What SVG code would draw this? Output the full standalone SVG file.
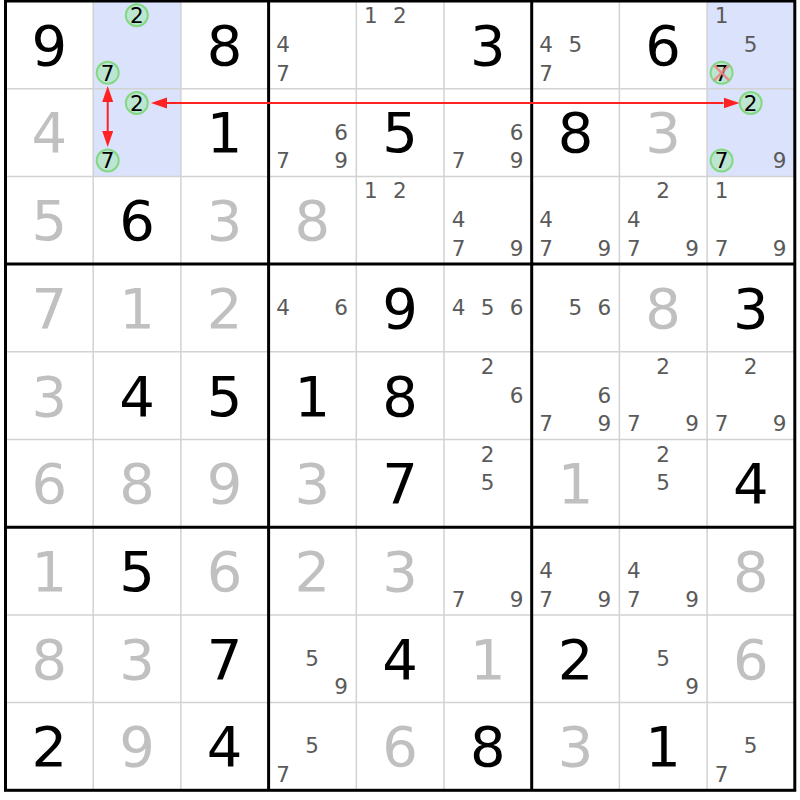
<svg xmlns="http://www.w3.org/2000/svg" width="800" height="800" viewBox="0 0 800 800">
<defs>
<style>
text{font-family:"DejaVu Sans","Liberation Sans",sans-serif;text-anchor:middle}
.g{font-size:56px;fill:#000}
.s{font-size:56px;fill:#c0c0c0}
.c{font-size:21.5px;fill:#5a5a5a}
.k{font-size:21.5px;fill:#000}
.thin{stroke:#d2d2d2;stroke-width:1.5}
.thick{stroke:#000;stroke-width:3}
.hl{fill:#dae3fb}
.ring{fill:#bde6d2;stroke:#84d884;stroke-width:2}
.x{stroke:#f08080;stroke-width:2.5;stroke-opacity:0.85}
.arrow{stroke:#f22;stroke-width:2;fill:none}
</style>
<marker id="ah" markerUnits="userSpaceOnUse" markerWidth="18" markerHeight="14" refX="0" refY="0" viewBox="0 -7 18 14" orient="auto-start-reverse">
<path d="M0,-5.5 L16,0 L0,5.5 Z" fill="#f22"/>
</marker>
</defs>
<rect width="800" height="800" fill="#fff"/>
<g id="highlights">
<rect class="hl" x="93.2" y="1" width="87.7" height="175.4"/>
<rect class="hl" x="707.1" y="1" width="87.7" height="175.4"/>
</g>
<g id="grid">
<g class="thin">
<line x1="93.2" y1="1" x2="93.2" y2="790.3"/>
<line x1="180.9" y1="1" x2="180.9" y2="790.3"/>
<line x1="356.3" y1="1" x2="356.3" y2="790.3"/>
<line x1="444" y1="1" x2="444" y2="790.3"/>
<line x1="619.4" y1="1" x2="619.4" y2="790.3"/>
<line x1="707.1" y1="1" x2="707.1" y2="790.3"/>
<line x1="5.5" y1="88.7" x2="794.8" y2="88.7"/>
<line x1="5.5" y1="176.4" x2="794.8" y2="176.4"/>
<line x1="5.5" y1="351.8" x2="794.8" y2="351.8"/>
<line x1="5.5" y1="439.5" x2="794.8" y2="439.5"/>
<line x1="5.5" y1="614.9" x2="794.8" y2="614.9"/>
<line x1="5.5" y1="702.6" x2="794.8" y2="702.6"/>
</g>
<g class="thick">
<line x1="268.6" y1="1" x2="268.6" y2="790.3"/>
<line x1="531.7" y1="1" x2="531.7" y2="790.3"/>
<line x1="5.5" y1="264.1" x2="794.8" y2="264.1"/>
<line x1="5.5" y1="527.2" x2="794.8" y2="527.2"/>
<rect x="5.5" y="1" width="789.3" height="789.3" fill="none"/>
</g>
</g>
<!-- Row 1 -->
<g id="r1c1" transform="translate(5.5,1)"><text class="g" x="43.8" y="63.8">9</text></g>
<g id="r1c2" transform="translate(93.2,1)">
<circle class="ring" cx="43.6" cy="14.3" r="11"/><text class="k" x="43.6" y="22">2</text>
<circle class="ring" cx="14.5" cy="71.8" r="11"/><text class="k" x="14.5" y="79.5">7</text>
</g>
<g id="r1c3" transform="translate(180.9,1)"><text class="g" x="43.8" y="63.8">8</text></g>
<g id="r1c4" transform="translate(268.6,1)"><text class="c" x="14.5" y="50.9">4</text><text class="c" x="14.5" y="79.5">7</text></g>
<g id="r1c5" transform="translate(356.3,1)"><text class="c" x="14.5" y="22">1</text><text class="c" x="43.6" y="22">2</text></g>
<g id="r1c6" transform="translate(444,1)"><text class="g" x="43.8" y="63.8">3</text></g>
<g id="r1c7" transform="translate(531.7,1)"><text class="c" x="14.5" y="50.9">4</text><text class="c" x="43.6" y="50.9">5</text><text class="c" x="14.5" y="79.5">7</text></g>
<g id="r1c8" transform="translate(619.4,1)"><text class="g" x="43.8" y="63.8">6</text></g>
<g id="r1c9" transform="translate(707.1,1)">
<text class="c" x="14.5" y="22">1</text><text class="c" x="43.6" y="50.9">5</text>
<circle class="ring" cx="14.5" cy="71.8" r="11"/><text class="k" x="14.5" y="79.5">7</text>
<line class="x" x1="7" y1="64.3" x2="22" y2="79.3"/><line class="x" x1="22" y1="64.3" x2="7" y2="79.3"/>
</g>
<!-- Row 2 -->
<g id="r2c1" transform="translate(5.5,88.7)"><text class="s" x="43.8" y="63.8">4</text></g>
<g id="r2c2" transform="translate(93.2,88.7)">
<circle class="ring" cx="43.6" cy="14.3" r="11"/><text class="k" x="43.6" y="22">2</text>
<circle class="ring" cx="14.5" cy="71.8" r="11"/><text class="k" x="14.5" y="79.5">7</text>
</g>
<g id="r2c3" transform="translate(180.9,88.7)"><text class="g" x="43.8" y="63.8">1</text></g>
<g id="r2c4" transform="translate(268.6,88.7)"><text class="c" x="72.6" y="50.9">6</text><text class="c" x="14.5" y="79.5">7</text><text class="c" x="72.6" y="79.5">9</text></g>
<g id="r2c5" transform="translate(356.3,88.7)"><text class="g" x="43.8" y="63.8">5</text></g>
<g id="r2c6" transform="translate(444,88.7)"><text class="c" x="72.6" y="50.9">6</text><text class="c" x="14.5" y="79.5">7</text><text class="c" x="72.6" y="79.5">9</text></g>
<g id="r2c7" transform="translate(531.7,88.7)"><text class="g" x="43.8" y="63.8">8</text></g>
<g id="r2c8" transform="translate(619.4,88.7)"><text class="s" x="43.8" y="63.8">3</text></g>
<g id="r2c9" transform="translate(707.1,88.7)">
<circle class="ring" cx="43.6" cy="14.3" r="11"/><text class="k" x="43.6" y="22">2</text>
<circle class="ring" cx="14.5" cy="71.8" r="11"/><text class="k" x="14.5" y="79.5">7</text>
<text class="c" x="72.6" y="79.5">9</text>
</g>
<!-- Row 3 -->
<g id="r3c1" transform="translate(5.5,176.4)"><text class="s" x="43.8" y="63.8">5</text></g>
<g id="r3c2" transform="translate(93.2,176.4)"><text class="g" x="43.8" y="63.8">6</text></g>
<g id="r3c3" transform="translate(180.9,176.4)"><text class="s" x="43.8" y="63.8">3</text></g>
<g id="r3c4" transform="translate(268.6,176.4)"><text class="s" x="43.8" y="63.8">8</text></g>
<g id="r3c5" transform="translate(356.3,176.4)"><text class="c" x="14.5" y="22">1</text><text class="c" x="43.6" y="22">2</text></g>
<g id="r3c6" transform="translate(444,176.4)"><text class="c" x="14.5" y="50.9">4</text><text class="c" x="14.5" y="79.5">7</text><text class="c" x="72.6" y="79.5">9</text></g>
<g id="r3c7" transform="translate(531.7,176.4)"><text class="c" x="14.5" y="50.9">4</text><text class="c" x="14.5" y="79.5">7</text><text class="c" x="72.6" y="79.5">9</text></g>
<g id="r3c8" transform="translate(619.4,176.4)"><text class="c" x="43.6" y="22">2</text><text class="c" x="14.5" y="50.9">4</text><text class="c" x="14.5" y="79.5">7</text><text class="c" x="72.6" y="79.5">9</text></g>
<g id="r3c9" transform="translate(707.1,176.4)"><text class="c" x="14.5" y="22">1</text><text class="c" x="14.5" y="79.5">7</text><text class="c" x="72.6" y="79.5">9</text></g>
<!-- Row 4 -->
<g id="r4c1" transform="translate(5.5,264.1)"><text class="s" x="43.8" y="63.8">7</text></g>
<g id="r4c2" transform="translate(93.2,264.1)"><text class="s" x="43.8" y="63.8">1</text></g>
<g id="r4c3" transform="translate(180.9,264.1)"><text class="s" x="43.8" y="63.8">2</text></g>
<g id="r4c4" transform="translate(268.6,264.1)"><text class="c" x="14.5" y="50.9">4</text><text class="c" x="72.6" y="50.9">6</text></g>
<g id="r4c5" transform="translate(356.3,264.1)"><text class="g" x="43.8" y="63.8">9</text></g>
<g id="r4c6" transform="translate(444,264.1)"><text class="c" x="14.5" y="50.9">4</text><text class="c" x="43.6" y="50.9">5</text><text class="c" x="72.6" y="50.9">6</text></g>
<g id="r4c7" transform="translate(531.7,264.1)"><text class="c" x="43.6" y="50.9">5</text><text class="c" x="72.6" y="50.9">6</text></g>
<g id="r4c8" transform="translate(619.4,264.1)"><text class="s" x="43.8" y="63.8">8</text></g>
<g id="r4c9" transform="translate(707.1,264.1)"><text class="g" x="43.8" y="63.8">3</text></g>
<!-- Row 5 -->
<g id="r5c1" transform="translate(5.5,351.8)"><text class="s" x="43.8" y="63.8">3</text></g>
<g id="r5c2" transform="translate(93.2,351.8)"><text class="g" x="43.8" y="63.8">4</text></g>
<g id="r5c3" transform="translate(180.9,351.8)"><text class="g" x="43.8" y="63.8">5</text></g>
<g id="r5c4" transform="translate(268.6,351.8)"><text class="g" x="43.8" y="63.8">1</text></g>
<g id="r5c5" transform="translate(356.3,351.8)"><text class="g" x="43.8" y="63.8">8</text></g>
<g id="r5c6" transform="translate(444,351.8)"><text class="c" x="43.6" y="22">2</text><text class="c" x="72.6" y="50.9">6</text></g>
<g id="r5c7" transform="translate(531.7,351.8)"><text class="c" x="72.6" y="50.9">6</text><text class="c" x="14.5" y="79.5">7</text><text class="c" x="72.6" y="79.5">9</text></g>
<g id="r5c8" transform="translate(619.4,351.8)"><text class="c" x="43.6" y="22">2</text><text class="c" x="14.5" y="79.5">7</text><text class="c" x="72.6" y="79.5">9</text></g>
<g id="r5c9" transform="translate(707.1,351.8)"><text class="c" x="43.6" y="22">2</text><text class="c" x="14.5" y="79.5">7</text><text class="c" x="72.6" y="79.5">9</text></g>
<!-- Row 6 -->
<g id="r6c1" transform="translate(5.5,439.5)"><text class="s" x="43.8" y="63.8">6</text></g>
<g id="r6c2" transform="translate(93.2,439.5)"><text class="s" x="43.8" y="63.8">8</text></g>
<g id="r6c3" transform="translate(180.9,439.5)"><text class="s" x="43.8" y="63.8">9</text></g>
<g id="r6c4" transform="translate(268.6,439.5)"><text class="s" x="43.8" y="63.8">3</text></g>
<g id="r6c5" transform="translate(356.3,439.5)"><text class="g" x="43.8" y="63.8">7</text></g>
<g id="r6c6" transform="translate(444,439.5)"><text class="c" x="43.6" y="22">2</text><text class="c" x="43.6" y="50.9">5</text></g>
<g id="r6c7" transform="translate(531.7,439.5)"><text class="s" x="43.8" y="63.8">1</text></g>
<g id="r6c8" transform="translate(619.4,439.5)"><text class="c" x="43.6" y="22">2</text><text class="c" x="43.6" y="50.9">5</text></g>
<g id="r6c9" transform="translate(707.1,439.5)"><text class="g" x="43.8" y="63.8">4</text></g>
<!-- Row 7 -->
<g id="r7c1" transform="translate(5.5,527.2)"><text class="s" x="43.8" y="63.8">1</text></g>
<g id="r7c2" transform="translate(93.2,527.2)"><text class="g" x="43.8" y="63.8">5</text></g>
<g id="r7c3" transform="translate(180.9,527.2)"><text class="s" x="43.8" y="63.8">6</text></g>
<g id="r7c4" transform="translate(268.6,527.2)"><text class="s" x="43.8" y="63.8">2</text></g>
<g id="r7c5" transform="translate(356.3,527.2)"><text class="s" x="43.8" y="63.8">3</text></g>
<g id="r7c6" transform="translate(444,527.2)"><text class="c" x="14.5" y="79.5">7</text><text class="c" x="72.6" y="79.5">9</text></g>
<g id="r7c7" transform="translate(531.7,527.2)"><text class="c" x="14.5" y="50.9">4</text><text class="c" x="14.5" y="79.5">7</text><text class="c" x="72.6" y="79.5">9</text></g>
<g id="r7c8" transform="translate(619.4,527.2)"><text class="c" x="14.5" y="50.9">4</text><text class="c" x="14.5" y="79.5">7</text><text class="c" x="72.6" y="79.5">9</text></g>
<g id="r7c9" transform="translate(707.1,527.2)"><text class="s" x="43.8" y="63.8">8</text></g>
<!-- Row 8 -->
<g id="r8c1" transform="translate(5.5,614.9)"><text class="s" x="43.8" y="63.8">8</text></g>
<g id="r8c2" transform="translate(93.2,614.9)"><text class="s" x="43.8" y="63.8">3</text></g>
<g id="r8c3" transform="translate(180.9,614.9)"><text class="g" x="43.8" y="63.8">7</text></g>
<g id="r8c4" transform="translate(268.6,614.9)"><text class="c" x="43.6" y="50.9">5</text><text class="c" x="72.6" y="79.5">9</text></g>
<g id="r8c5" transform="translate(356.3,614.9)"><text class="g" x="43.8" y="63.8">4</text></g>
<g id="r8c6" transform="translate(444,614.9)"><text class="s" x="43.8" y="63.8">1</text></g>
<g id="r8c7" transform="translate(531.7,614.9)"><text class="g" x="43.8" y="63.8">2</text></g>
<g id="r8c8" transform="translate(619.4,614.9)"><text class="c" x="43.6" y="50.9">5</text><text class="c" x="72.6" y="79.5">9</text></g>
<g id="r8c9" transform="translate(707.1,614.9)"><text class="s" x="43.8" y="63.8">6</text></g>
<!-- Row 9 -->
<g id="r9c1" transform="translate(5.5,702.6)"><text class="g" x="43.8" y="63.8">2</text></g>
<g id="r9c2" transform="translate(93.2,702.6)"><text class="s" x="43.8" y="63.8">9</text></g>
<g id="r9c3" transform="translate(180.9,702.6)"><text class="g" x="43.8" y="63.8">4</text></g>
<g id="r9c4" transform="translate(268.6,702.6)"><text class="c" x="43.6" y="50.9">5</text><text class="c" x="14.5" y="79.5">7</text></g>
<g id="r9c5" transform="translate(356.3,702.6)"><text class="s" x="43.8" y="63.8">6</text></g>
<g id="r9c6" transform="translate(444,702.6)"><text class="g" x="43.8" y="63.8">8</text></g>
<g id="r9c7" transform="translate(531.7,702.6)"><text class="s" x="43.8" y="63.8">3</text></g>
<g id="r9c8" transform="translate(619.4,702.6)"><text class="g" x="43.8" y="63.8">1</text></g>
<g id="r9c9" transform="translate(707.1,702.6)"><text class="c" x="43.6" y="50.9">5</text><text class="c" x="14.5" y="79.5">7</text></g>
<g id="connectors">
<line class="arrow" x1="167" y1="103" x2="723.5" y2="103" marker-start="url(#ah)" marker-end="url(#ah)"/>
<line class="arrow" x1="107.7" y1="102" x2="107.7" y2="131" marker-start="url(#ah)" marker-end="url(#ah)"/>
</g>
</svg>
